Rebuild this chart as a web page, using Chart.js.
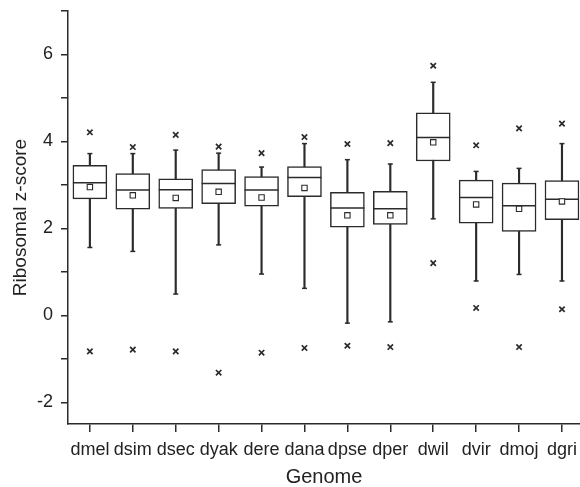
<!DOCTYPE html>
<html>
<head>
<meta charset="utf-8">
<script src="https://cdn.jsdelivr.net/npm/chart.js@4/dist/chart.umd.min.js"></script>
<style>
  html, body { margin: 0; padding: 0; background: #ffffff; }
  #wrap { width: 580px; height: 487px; position: relative; }
</style>
</head>
<body>
<div id="wrap"><canvas id="c"></canvas></div>
<script>
const categories = ['dmel','dsim','dsec','dyak','dere','dana','dpse','dper','dwil','dvir','dmoj','dgri'];
const maxMark     = [4.21, 3.87, 4.15, 3.88, 3.73, 4.10, 3.94, 3.96, 5.74, 3.91, 4.30, 4.41];
const whiskerHigh = [3.72, 3.72, 3.80, 3.73, 3.41, 3.95, 3.58, 3.48, 5.36, 3.31, 3.38, 3.95];
const q3          = [3.45, 3.26, 3.14, 3.35, 3.19, 3.42, 2.83, 2.85, 4.66, 3.11, 3.04, 3.10];
const median      = [3.05, 2.88, 2.89, 3.03, 2.88, 3.17, 2.47, 2.45, 4.09, 2.71, 2.52, 2.67];
const mean        = [2.95, 2.76, 2.70, 2.84, 2.71, 2.93, 2.30, 2.30, 3.98, 2.55, 2.45, 2.62];
const q1          = [2.68, 2.44, 2.46, 2.57, 2.51, 2.73, 2.03, 2.09, 3.55, 2.12, 1.93, 2.20];
const whiskerLow  = [1.56, 1.47, 0.49, 1.62, 0.95, 0.62, -0.18, -0.15, 2.22, 0.79, 0.94, 0.79];
const minMark     = [-0.83, -0.79, -0.83, -1.32, -0.86, -0.75, -0.70, -0.73, 1.20, 0.17, -0.73, 0.14];
const yTickValues = [-2, -1, 0, 1, 2, 3, 4, 5, 6, 7];
const yTickLabels = ['-2', '', '0', '', '2', '', '4', '', '6', ''];

const INK = '#2b2b2b';
const FONT = "'Liberation Sans', Arial, Helvetica, sans-serif";

const pts = arr => arr.map((v, i) => ({ x: i, y: v }));
const ranges = (lo, hi) => lo.map((v, i) => ({ x: i, y: [v, hi[i]] }));

const datasets = [
  { type: 'scatter', label: 'max', data: pts(maxMark), pointStyle: 'crossRot', pointRadius: 3.8,
    borderColor: INK, borderWidth: 1.7, backgroundColor: INK, order: 1 },
  { type: 'scatter', label: 'min', data: pts(minMark), pointStyle: 'crossRot', pointRadius: 3.8,
    borderColor: INK, borderWidth: 1.7, backgroundColor: INK, order: 1 },
  { type: 'scatter', label: 'mean', data: pts(mean), pointStyle: 'rect', pointRadius: 3.8,
    borderColor: INK, borderWidth: 1.1, backgroundColor: '#ffffff', order: 2 },
  { type: 'scatter', label: 'median', data: pts(median), pointStyle: 'line', pointRadius: 17,
    borderColor: INK, borderWidth: 1.5, order: 3 },
  { type: 'scatter', label: 'capHigh', data: pts(whiskerHigh), pointStyle: 'line', pointRadius: 2.5,
    borderColor: INK, borderWidth: 1.5, order: 3 },
  { type: 'scatter', label: 'capLow', data: pts(whiskerLow), pointStyle: 'line', pointRadius: 2.5,
    borderColor: INK, borderWidth: 1.5, order: 3 },
  { type: 'bar', label: 'box', data: ranges(q1, q3), barThickness: 34, grouped: false,
    backgroundColor: '#ffffff', borderColor: INK, borderWidth: 1.5, borderSkipped: false, order: 4 },
  { type: 'bar', label: 'whisker', data: ranges(whiskerLow, whiskerHigh), barThickness: 1.5, grouped: false,
    backgroundColor: INK, borderWidth: 0, order: 5 }
];

new Chart(document.getElementById('c'), {
  data: { datasets },
  options: {
    responsive: true,
    maintainAspectRatio: false,
    animation: false,
    events: [],
    layout: { autoPadding: false, padding: { top: 11, right: 0, left: 0, bottom: 0 } },
    plugins: { legend: { display: false }, tooltip: { enabled: false } },
    scales: {
      x: {
        type: 'linear',
        offset: false,
        min: -0.51,
        max: 11.42,
        afterBuildTicks: s => { s.ticks = categories.map((c, i) => ({ value: i })); },
        afterFit: s => { s.height = 63; s.paddingLeft = 0; s.paddingRight = 0; },
        grid: { offset: false, drawOnChartArea: false, drawTicks: true, tickLength: 8, color: INK, lineWidth: 1.5 },
        border: { display: true, color: INK, width: 1.5 },
        ticks: {
          autoSkip: false, maxRotation: 0, padding: 7, color: '#222',
          font: { family: FONT, size: 18 },
          callback: v => categories[v] ?? ''
        },
        title: { display: true, text: 'Genome', color: '#222',
          font: { family: FONT, size: 20, lineHeight: 1 }, padding: { top: 0, bottom: 0 } }
      },
      y: {
        type: 'linear',
        min: -2.5,
        max: 7,
        afterBuildTicks: s => { s.ticks = yTickValues.map(v => ({ value: v })); },
        afterFit: s => { s.width = 68; s.paddingTop = 0; s.paddingBottom = 0; },
        grid: { drawOnChartArea: false, drawTicks: true, tickLength: 7, color: INK, lineWidth: 1.5 },
        border: { display: true, color: INK, width: 1.5 },
        ticks: {
          autoSkip: false, padding: 8, color: '#222',
          font: { family: FONT, size: 18 },
          callback: v => { const k = yTickValues.indexOf(v); return k >= 0 ? yTickLabels[k] : ''; }
        },
        title: { display: true, text: 'Ribosomal z-score', color: '#222',
          font: { family: FONT, size: 19, lineHeight: 1 }, padding: { top: 11, bottom: 0 } }
      }
    }
  }
});
</script>
</body>
</html>
